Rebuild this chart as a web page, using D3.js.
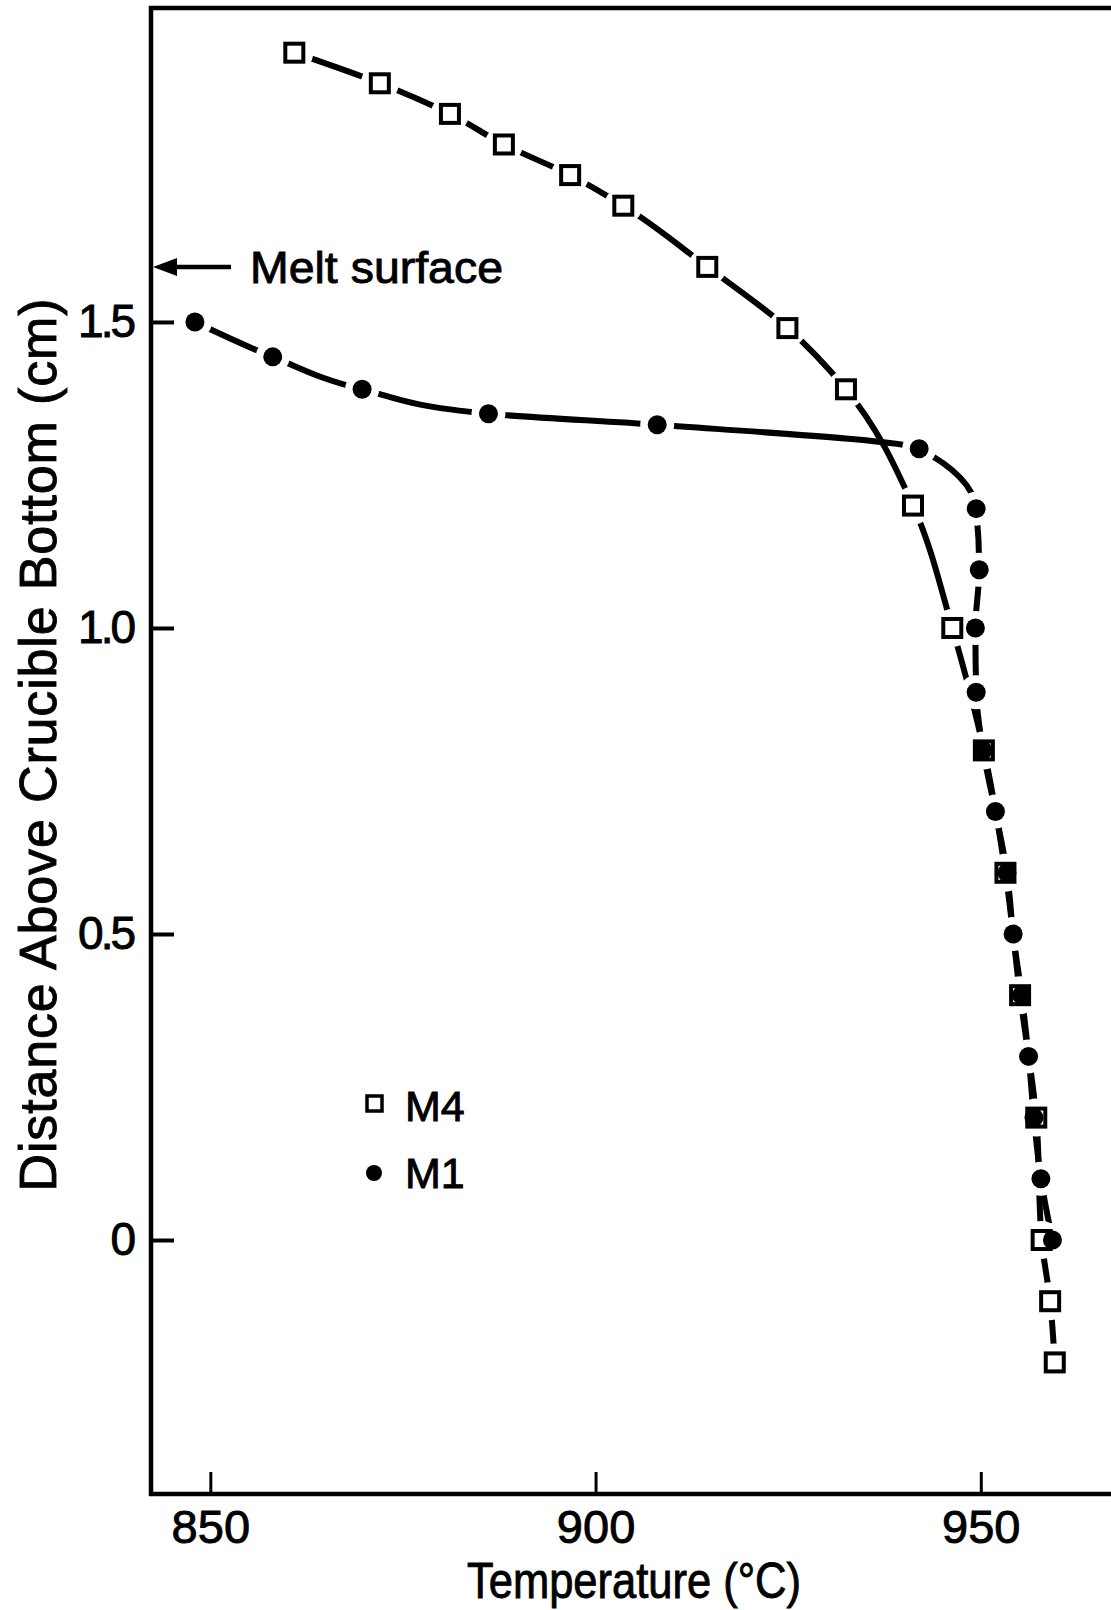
<!DOCTYPE html>
<html>
<head>
<meta charset="utf-8">
<script src="https://cdn.jsdelivr.net/npm/d3@7"></script>
<style>
  html, body { margin: 0; padding: 0; background: #fff; }
  svg { display: block; }
  text { font-family: "Liberation Sans", Arial, sans-serif; fill: #000; stroke: #000; stroke-width: 0.9px; }
</style>
</head>
<body>
<script>
// ---- data ----
const xTicks = [850, 900, 950];
const yTicks = [0, 0.5, 1.0, 1.5];
const seriesNames = ["M4", "M1"];

const m4Temp = [860.9, 872.0, 881.1, 888.1, 896.7, 903.6, 914.5, 924.9, 932.5, 941.2, 946.3, 950.4, 953.2, 955.1, 957.2, 957.9, 959.0, 959.6];
const m4Dist = [1.94, 1.89, 1.84, 1.79, 1.74, 1.69, 1.59, 1.49, 1.39, 1.2, 1.0, 0.8, 0.6, 0.4, 0.2, 0.0, -0.1, -0.2];

const m1Temp = [848.0, 858.1, 869.7, 886.1, 908.0, 942.0, 949.4, 949.8, 949.3, 949.4, 950.3, 951.9, 953.4, 954.2, 955.3, 956.2, 956.9, 957.8, 959.3];
const m1Dist = [1.5, 1.443, 1.39, 1.35, 1.332, 1.293, 1.195, 1.095, 1.0, 0.895, 0.8, 0.7, 0.6, 0.5, 0.4, 0.3, 0.2, 0.1, 0.0];

const meltSurface = 1.59;
const xDomain = [842.3, 966.9];
const yDomain = [-0.415, 2.013];

// ---- layout ----
const W = 1111, H = 1610;
const L = 151, R = 1111, T = 8, B = 1494;

const svg = d3.select("body").append("svg").attr("width", W).attr("height", H);
svg.append("rect").attr("width", W).attr("height", H).attr("fill", "#fff");

const x = d3.scaleLinear().domain(xDomain).range([L, R]);
const y = d3.scaleLinear().domain(yDomain).range([B, T]);

const m4 = m4Temp.map((t, i) => ({t, d: m4Dist[i]}));
const m1 = m1Temp.map((t, i) => ({t, d: m1Dist[i]}));

// mask to break lines at markers
const defs = svg.append("defs");
const mask = defs.append("mask").attr("id", "gaps").attr("maskUnits", "userSpaceOnUse")
  .attr("x", 0).attr("y", 0).attr("width", W).attr("height", H);
mask.append("rect").attr("width", W).attr("height", H).attr("fill", "#fff");
mask.selectAll("circle.s").data(m4).join("circle")
  .attr("cx", d => x(d.t)).attr("cy", d => y(d.d)).attr("r", 19).attr("fill", "#000");
mask.selectAll("circle.c").data(m1).join("circle")
  .attr("cx", d => x(d.t)).attr("cy", d => y(d.d)).attr("r", 17).attr("fill", "#000");

// axes
const yAxis = d3.axisLeft(y).tickValues(yTicks).tickSize(-23).tickPadding(18)
  .tickFormat(d => d === 0 ? "0" : d3.format(".1f")(d));
const gy = svg.append("g").attr("transform", `translate(${L},0)`).call(yAxis);
gy.select(".domain").remove();
gy.selectAll(".tick line").attr("stroke", "#000").attr("stroke-width", 4);
gy.selectAll(".tick text").attr("font-size", 46).attr("letter-spacing", -3).attr("fill", "#000");

const xAxis = d3.axisBottom(x).tickValues(xTicks).tickSize(-22).tickPadding(16);
const gx = svg.append("g").attr("transform", `translate(0,${B})`).call(xAxis);
gx.select(".domain").remove();
gx.selectAll(".tick line").attr("stroke", "#000").attr("stroke-width", 3);
gx.selectAll(".tick text").attr("font-size", 47).attr("fill", "#000");

// frame
const frame = svg.append("g").attr("stroke", "#000").attr("stroke-width", 4.5).attr("fill", "none");
frame.append("line").attr("x1", L).attr("x2", L).attr("y1", T - 2).attr("y2", B + 2);
frame.append("line").attr("x1", L - 2).attr("x2", R).attr("y1", T).attr("y2", T);
frame.append("line").attr("x1", L - 2).attr("x2", R).attr("y1", B).attr("y2", B);

// curves
const line = d3.line().x(d => x(d.t)).y(d => y(d.d)).curve(d3.curveMonotoneY);
const lines = svg.append("g").attr("mask", "url(#gaps)");
[m4, m1].forEach(s => {
  lines.append("path").attr("d", line(s)).attr("fill", "none")
    .attr("stroke", "#000").attr("stroke-width", 6).attr("stroke-linecap", "round");
});

// markers
svg.append("g").selectAll("rect").data(m4).join("rect")
  .attr("x", d => x(d.t) - 9).attr("y", d => y(d.d) - 9)
  .attr("width", 18).attr("height", 18)
  .attr("fill", "#fff").attr("stroke", "#000").attr("stroke-width", 4);
svg.append("g").selectAll("circle").data(m1).join("circle")
  .attr("cx", d => x(d.t)).attr("cy", d => y(d.d)).attr("r", 9.5).attr("fill", "#000");

// melt surface annotation
const my = y(meltSurface);
svg.append("line").attr("x1", L + 16).attr("x2", L + 80).attr("y1", my).attr("y2", my)
  .attr("stroke", "#000").attr("stroke-width", 4.5);
svg.append("path").attr("d", `M${L + 2},${my} L${L + 26},${my - 9} L${L + 26},${my + 9} Z`).attr("fill", "#000");
svg.append("text").attr("x", 250).attr("y", my + 16).attr("font-size", 45)
  .attr("textLength", 253).attr("lengthAdjust", "spacingAndGlyphs").text("Melt surface");

// legend
const lg = svg.append("g");
lg.append("rect").attr("x", 367).attr("y", 1096).attr("width", 15).attr("height", 15)
  .attr("fill", "#fff").attr("stroke", "#000").attr("stroke-width", 3.5);
lg.append("text").attr("x", 405).attr("y", 1121).attr("font-size", 43).text(seriesNames[0]);
lg.append("circle").attr("cx", 374).attr("cy", 1173).attr("r", 8).attr("fill", "#000");
lg.append("text").attr("x", 405).attr("y", 1188).attr("font-size", 43).text(seriesNames[1]);

// axis titles
svg.append("text").attr("x", 634).attr("y", 1598).attr("text-anchor", "middle")
  .attr("font-size", 50).attr("textLength", 334).attr("lengthAdjust", "spacingAndGlyphs")
  .text("Temperature  (°C)");
svg.append("text").attr("transform", "translate(56,745) rotate(-90)").attr("text-anchor", "middle")
  .attr("font-size", 52).attr("textLength", 893).attr("lengthAdjust", "spacing")
  .text("Distance  Above  Crucible  Bottom  (cm)");
</script>
</body>
</html>
